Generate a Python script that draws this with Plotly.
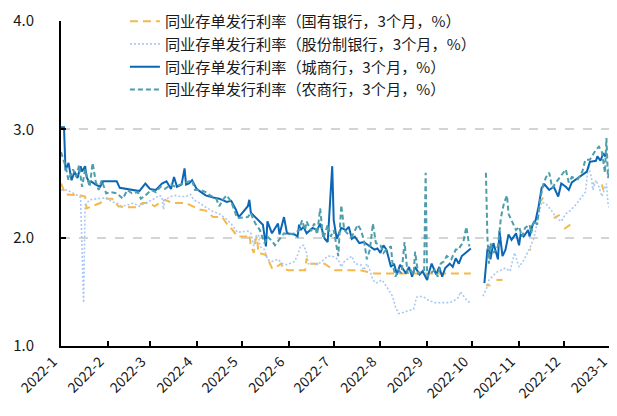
import plotly.graph_objects as go

# ---------------- data ----------------
months = ["2022-01-01", "2022-02-01", "2022-03-01", "2022-04-01", "2022-05-01", "2022-06-01",
          "2022-07-01", "2022-08-01", "2022-09-01", "2022-10-01", "2022-11-01", "2022-12-01",
          "2023-01-01"]
month_labels = ["2022-1", "2022-2", "2022-3", "2022-4", "2022-5", "2022-6", "2022-7",
                "2022-8", "2022-9", "2022-10", "2022-11", "2022-12", "2023-1"]
y_ticks = [1.0, 2.0, 3.0, 4.0]

names = ["同业存单发行利率（国有银行，3个月，%）",
         "同业存单发行利率（股份制银行，3个月，%）",
         "同业存单发行利率（城商行，3个月，%）",
         "同业存单发行利率（农商行，3个月，%）"]

state_dates = ["2022-01-01", "2022-01-04", "2022-01-14", "2022-01-17", "2022-01-18", "2022-01-22",
               "2022-01-27", "2022-01-31", "2022-02-04", "2022-02-08", "2022-02-13", "2022-02-20",
               "2022-02-24", "2022-03-01", "2022-03-04", "2022-03-11", "2022-03-16", "2022-03-25",
               "2022-03-29", "2022-04-03", "2022-04-07", "2022-04-12", "2022-04-18", "2022-04-21",
               "2022-04-25", "2022-04-28", "2022-05-05", "2022-05-06", "2022-05-07", "2022-05-09",
               "2022-05-10", "2022-05-11", "2022-05-12", "2022-05-17", "2022-05-19", "2022-05-21",
               "2022-05-23", "2022-05-27", "2022-05-29", "2022-06-01", "2022-06-12", "2022-06-13",
               "2022-06-14", "2022-06-25", "2022-06-29", "2022-07-02", "2022-07-18", "2022-07-21",
               "2022-07-28", "2022-09-30", "2022-10-05", "2022-10-10", "2022-10-13", "2022-10-15",
               "2022-10-17", "2022-10-21", "2022-10-25", "2022-11-08", "2022-11-09", "2022-11-11",
               "2022-11-15", "2022-11-17", "2022-11-20", "2022-11-24", "2022-11-28", "2022-11-30",
               "2022-12-01", "2022-12-05", "2022-12-10", "2022-12-20", "2022-12-21", "2022-12-23",
               "2022-12-26", "2022-12-27"]
state_vals = [2.50, 2.40, 2.39, 2.38, 2.27, 2.29,
              2.32, 2.36, 2.36, 2.29, 2.28, 2.28,
              2.32, 2.32, 2.29, 2.35, 2.32, 2.32,
              2.29, 2.26, 2.25, 2.19, 2.19, 2.13,
              2.07, 2.01, 2.01, 2.03, 1.92, 1.86,
              1.97, 2.01, 1.86, 1.84, 1.78, 1.72,
              1.72, 1.76, 1.71, 1.70, 1.70, 1.81,
              1.76, 1.76, 1.72, 1.70, 1.70, 1.69,
              1.67, 1.67, None, 1.56, 1.56, None,
              1.61, 1.61, None, 1.89, 1.89, None,
              2.33, 2.37, None, 2.18, 2.21, None,
              2.08, 2.12, None, 2.50, 2.50, None,
              2.49, 2.44]

joint_dates = ["2022-01-01", "2022-01-05", "2022-01-12", "2022-01-14", "2022-01-16", "2022-01-17",
               "2022-01-20", "2022-01-28", "2022-01-31", "2022-02-04", "2022-02-07", "2022-02-10",
               "2022-02-14", "2022-02-18", "2022-02-22", "2022-02-26", "2022-03-04", "2022-03-07",
               "2022-03-09", "2022-03-10", "2022-03-11", "2022-03-15", "2022-03-18", "2022-03-21",
               "2022-03-25", "2022-03-28", "2022-03-30", "2022-04-03", "2022-04-06", "2022-04-12",
               "2022-04-16", "2022-04-21", "2022-04-25", "2022-04-28", "2022-05-05", "2022-05-07",
               "2022-05-09", "2022-05-10", "2022-05-12", "2022-05-13", "2022-05-16", "2022-05-18",
               "2022-05-21", "2022-05-25", "2022-05-28", "2022-05-31", "2022-06-05", "2022-06-07",
               "2022-06-09", "2022-06-11", "2022-06-13", "2022-06-14", "2022-06-17", "2022-06-20",
               "2022-06-23", "2022-06-27", "2022-06-30", "2022-07-04", "2022-07-06", "2022-07-08",
               "2022-07-10", "2022-07-13", "2022-07-15", "2022-07-19", "2022-07-21", "2022-07-23",
               "2022-07-25", "2022-07-27", "2022-07-29", "2022-08-02", "2022-08-05", "2022-08-09",
               "2022-08-11", "2022-08-13", "2022-08-16", "2022-08-20", "2022-08-23", "2022-08-25",
               "2022-08-27", "2022-08-30", "2022-09-02", "2022-09-06", "2022-09-09", "2022-09-12",
               "2022-09-16", "2022-09-19", "2022-09-22", "2022-09-23", "2022-09-26", "2022-09-28",
               "2022-09-30", "2022-10-05", "2022-10-08", "2022-10-11", "2022-10-12", "2022-10-14",
               "2022-10-17", "2022-10-20", "2022-10-23", "2022-10-26", "2022-10-29", "2022-11-01",
               "2022-11-04", "2022-11-08", "2022-11-11", "2022-11-13", "2022-11-16", "2022-11-19",
               "2022-11-22", "2022-11-26", "2022-11-29", "2022-12-02", "2022-12-05", "2022-12-09",
               "2022-12-12", "2022-12-15", "2022-12-17", "2022-12-19", "2022-12-20", "2022-12-22",
               "2022-12-24", "2022-12-26", "2022-12-29", "2022-12-30", "2023-01-01", "2023-01-03",
               "2023-01-05"]
joint_vals = [2.44, 2.44, 2.39, 2.37, 1.40, 2.30,
              2.35, 2.36, 2.37, 2.33, 2.32, 2.29,
              2.30, 2.32, 2.29, 2.32, 2.36, 2.39,
              2.38, 2.26, 2.35, 2.38, 2.39, 2.38,
              2.38, 2.40, 2.35, 2.32, 2.29, 2.24,
              2.22, 2.17, 2.11, 2.05, 2.06, 2.04,
              1.92, 2.01, 2.03, 1.92, 1.89, 1.80,
              1.78, 1.80, 1.76, 1.75, 1.78, 1.84,
              1.92, 1.93, 1.86, 1.76, 1.76, 1.75,
              1.78, 1.83, 1.83, 1.80, 1.73, 1.78,
              1.80, 1.83, 1.76, 1.75, 1.70, 1.76,
              1.70, 1.61, 1.58, 1.61, 1.55, 1.46,
              1.36, 1.30, 1.31, 1.33, 1.34, 1.45,
              1.46, 1.45, 1.42, 1.40, 1.40, 1.40,
              1.40, 1.42, 1.45, 1.50, 1.44, 1.41,
              1.40, None, 1.46, 1.55, 1.61, 1.64,
              1.68, 1.70, 1.72, 1.69, 1.86, 1.73,
              1.79, 1.90, 2.00, 2.14, 2.33, 2.31,
              2.26, 2.18, 2.15, 2.22, 2.25, 2.31,
              2.36, 2.42, 2.66, 2.56, 2.44, 2.53,
              2.47, 2.38, 2.50, 2.32, 2.23, 2.20,
              2.16]

city_dates = ["2022-01-01", "2022-01-03", "2022-01-04", "2022-01-06", "2022-01-08", "2022-01-10",
              "2022-01-12", "2022-01-14", "2022-01-15", "2022-01-17", "2022-01-18", "2022-01-20",
              "2022-01-21", "2022-01-24", "2022-01-27", "2022-01-29", "2022-02-01", "2022-02-07",
              "2022-02-09", "2022-02-13", "2022-02-18", "2022-02-22", "2022-02-26", "2022-03-01",
              "2022-03-05", "2022-03-09", "2022-03-12", "2022-03-15", "2022-03-17", "2022-03-19",
              "2022-03-22", "2022-03-24", "2022-03-25", "2022-03-27", "2022-03-29", "2022-04-01",
              "2022-04-03", "2022-04-07", "2022-04-12", "2022-04-16", "2022-04-21", "2022-04-24",
              "2022-04-27", "2022-04-29", "2022-05-05", "2022-05-06", "2022-05-07", "2022-05-10",
              "2022-05-12", "2022-05-15", "2022-05-17", "2022-05-18", "2022-05-21", "2022-05-25",
              "2022-05-26", "2022-05-29", "2022-05-31", "2022-06-05", "2022-06-07", "2022-06-08",
              "2022-06-09", "2022-06-11", "2022-06-13", "2022-06-17", "2022-06-20", "2022-06-22",
              "2022-06-25", "2022-06-27", "2022-06-30", "2022-07-01", "2022-07-03", "2022-07-06",
              "2022-07-09", "2022-07-11", "2022-07-13", "2022-07-15", "2022-07-18", "2022-07-21",
              "2022-07-24", "2022-07-28", "2022-07-30", "2022-08-01", "2022-08-03", "2022-08-05",
              "2022-08-08", "2022-08-10", "2022-08-12", "2022-08-14", "2022-08-18", "2022-08-20",
              "2022-08-22", "2022-08-24", "2022-08-27", "2022-08-29", "2022-09-01", "2022-09-02",
              "2022-09-04", "2022-09-07", "2022-09-09", "2022-09-11", "2022-09-13", "2022-09-16",
              "2022-09-18", "2022-09-20", "2022-09-22", "2022-09-24", "2022-09-30", "2022-10-05",
              "2022-10-09", "2022-10-11", "2022-10-12", "2022-10-13", "2022-10-15", "2022-10-18",
              "2022-10-19", "2022-10-21", "2022-10-23", "2022-10-25", "2022-10-27", "2022-10-30",
              "2022-11-01", "2022-11-02", "2022-11-04", "2022-11-07", "2022-11-08", "2022-11-10",
              "2022-11-12", "2022-11-14", "2022-11-16", "2022-11-18", "2022-11-21", "2022-11-24",
              "2022-11-27", "2022-11-29", "2022-12-02", "2022-12-04", "2022-12-06", "2022-12-11",
              "2022-12-13", "2022-12-16", "2022-12-18", "2022-12-22", "2022-12-23", "2022-12-25",
              "2022-12-27", "2022-12-28", "2022-12-29"]
city_vals = [3.02, 3.02, 2.62, 2.69, 2.53, 2.61,
             2.55, 2.66, 2.61, 2.66, 2.56, 2.50,
             2.52, 2.49, 2.47, 2.52, 2.52, 2.52,
             2.46, 2.45, 2.44, 2.43, 2.50, 2.45,
             2.44, 2.50, 2.52, 2.45, 2.56, 2.47,
             2.49, 2.64, 2.49, 2.50, 2.53, 2.45,
             2.43, 2.39, 2.37, 2.36, 2.33, 2.34,
             2.26, 2.19, 2.29, 2.35, 2.23, 2.19,
             2.16, 2.12, 1.92, 2.15, 2.04, 2.13,
             2.03, 2.19, 2.04, 2.03, 2.01, 2.12,
             2.07, 2.10, 2.04, 2.09, 2.07, 2.13,
             1.99, 1.96, 2.66, 2.16, 1.99, 2.09,
             2.07, 2.10, 1.99, 2.01, 1.95, 1.96,
             1.93, 1.89, 1.90, 1.86, 1.93, 1.89,
             1.73, 1.76, 1.66, 1.75, 1.67, 1.73,
             1.64, 1.73, 1.66, 1.69, 1.61, 1.67,
             1.76, 1.66, 1.73, 1.64, 1.72, 1.76,
             1.73, 1.81, 1.76, 1.83, 1.90, None,
             1.58, 1.89, 1.92, 1.80, 1.95, 1.80,
             2.06, 1.83, 1.89, 2.03, 1.98, 2.04,
             1.93, 2.03, 2.01, 2.07, 2.01, 2.12,
             2.16, 2.29, 2.46, 2.49, 2.44, 2.47,
             2.38, 2.50, 2.47, 2.44, 2.51, 2.56,
             2.58, 2.61, 2.70, 2.71, 2.75, 2.71,
             2.78, 2.75, 2.78]

rural_dates = ["2022-01-01", "2022-01-04", "2022-01-06", "2022-01-09", "2022-01-11", "2022-01-13",
               "2022-01-15", "2022-01-17", "2022-01-20", "2022-01-22", "2022-01-24", "2022-01-26",
               "2022-01-28", "2022-01-31", "2022-02-03", "2022-02-07", "2022-02-11", "2022-02-14",
               "2022-02-17", "2022-02-21", "2022-02-23", "2022-02-26", "2022-03-02", "2022-03-05",
               "2022-03-08", "2022-03-11", "2022-03-15", "2022-03-18", "2022-03-21", "2022-03-27",
               "2022-03-29", "2022-03-31", "2022-04-04", "2022-04-07", "2022-04-10", "2022-04-14",
               "2022-04-16", "2022-04-19", "2022-04-21", "2022-04-24", "2022-04-26", "2022-04-28",
               "2022-05-05", "2022-05-07", "2022-05-08", "2022-05-10", "2022-05-13", "2022-05-16",
               "2022-05-18", "2022-05-21", "2022-05-23", "2022-05-26", "2022-05-29", "2022-06-01",
               "2022-06-05", "2022-06-08", "2022-06-10", "2022-06-12", "2022-06-13", "2022-06-16",
               "2022-06-18", "2022-06-20", "2022-06-22", "2022-06-24", "2022-06-27", "2022-06-29",
               "2022-07-01", "2022-07-04", "2022-07-06", "2022-07-08", "2022-07-10", "2022-07-13",
               "2022-07-17", "2022-07-19", "2022-07-21", "2022-07-23", "2022-07-25", "2022-07-27",
               "2022-07-29", "2022-08-01", "2022-08-03", "2022-08-05", "2022-08-08", "2022-08-09",
               "2022-08-11", "2022-08-13", "2022-08-15", "2022-08-17", "2022-08-19", "2022-08-21",
               "2022-08-23", "2022-08-24", "2022-08-26", "2022-08-30", "2022-08-31", "2022-09-01",
               "2022-09-03", "2022-09-06", "2022-09-08", "2022-09-10", "2022-09-12", "2022-09-14",
               "2022-09-17", "2022-09-20", "2022-09-22", "2022-09-23", "2022-09-25", "2022-09-27",
               "2022-09-29", "2022-10-05", "2022-10-10", "2022-10-11", "2022-10-12", "2022-10-13",
               "2022-10-15", "2022-10-18", "2022-10-20", "2022-10-22", "2022-10-24", "2022-10-25",
               "2022-10-27", "2022-10-30", "2022-11-01", "2022-11-03", "2022-11-05", "2022-11-08",
               "2022-11-09", "2022-11-11", "2022-11-13", "2022-11-14", "2022-11-15", "2022-11-17",
               "2022-11-19", "2022-11-21", "2022-11-23", "2022-11-25", "2022-11-29", "2022-12-02",
               "2022-12-04", "2022-12-06", "2022-12-10", "2022-12-13", "2022-12-15", "2022-12-18",
               "2022-12-22", "2022-12-24", "2022-12-26", "2022-12-28", "2022-12-29", "2022-12-30",
               "2023-01-03", "2023-01-05"]
rural_vals = [2.79, 2.66, 2.53, 2.63, 2.56, 2.67,
              2.47, 2.63, 2.47, 2.69, 2.52, 2.44,
              2.53, 2.41, 2.42, 2.41, 2.36, 2.44,
              2.41, 2.42, 2.36, 2.39, 2.44, 2.42,
              2.47, 2.45, 2.49, 2.47, 2.49, 2.52,
              2.53, 2.44, 2.44, 2.42, 2.39, 2.36,
              2.29, 2.36, 2.39, 2.33, 2.26, 2.18,
              2.19, 2.23, 2.19, 2.13, 2.07, 1.95,
              2.01, 1.97, 1.93, 1.98, 2.04, 2.03,
              2.04, 2.07, 2.16, 2.07, 2.15, 2.06,
              2.13, 2.03, 2.27, 1.99, 2.12, 2.01,
              2.07, 1.83, 2.30, 2.07, 2.04, 2.01,
              2.12, 2.07, 1.98, 1.80, 1.89, 2.13,
              1.95, 1.93, 1.86, 1.89, 1.92, 1.76,
              1.64, 1.70, 1.67, 1.96, 1.67, 1.70,
              1.66, 1.87, 1.67, 1.70, 2.60, 1.64,
              1.67, 1.70, 1.64, 1.76, 1.78, 1.83,
              1.80, 1.89, 1.89, 1.92, 1.96, 2.10,
              1.92, None, 2.60, 2.00, 1.76, 1.95,
              1.86, 1.92, 2.19, 2.32, 2.39, 2.22,
              2.16, 2.07, 2.10, 2.01, 2.09, 2.12,
              2.04, 2.16, 2.12, 2.26, 2.35, 2.49,
              2.56, 2.60, 2.46, 2.50, 2.58, 2.63,
              2.51, 2.56, 2.54, 2.61, 2.72, 2.72,
              2.81, 2.84, 2.79, 2.60, 2.92, 2.55,
              2.86, 2.84]

# ---------------- figure ----------------
# The page body adds an 8px offset, so the figure is sized 8px smaller each way.
FONT = "Noto Sans CJK SC, Noto Sans, sans-serif"
fig = go.Figure()

fig.add_trace(go.Scatter(x=state_dates, y=state_vals, name=names[0], mode="lines",
                         connectgaps=False,
                         line=dict(color="#F5B84A", width=2, dash="8px,5px")))
fig.add_trace(go.Scatter(x=joint_dates, y=joint_vals, name=names[1], mode="lines",
                         connectgaps=False,
                         line=dict(color="#A9C8F5", width=1.6, dash="2px,2px")))
fig.add_trace(go.Scatter(x=city_dates, y=city_vals, name=names[2], mode="lines",
                         connectgaps=False,
                         line=dict(color="#0B66B5", width=2)))
fig.add_trace(go.Scatter(x=rural_dates, y=rural_vals, name=names[3], mode="lines",
                         connectgaps=False,
                         line=dict(color="#4D9DAA", width=2, dash="5px,3px")))

fig.update_layout(
    width=609, height=408,
    margin=dict(l=53, r=0, t=13, b=70, autoexpand=False),
    paper_bgcolor="white", plot_bgcolor="white",
    font=dict(family=FONT, size=13, color="#1a1a1a"),
    showlegend=True,
    legend=dict(xref="container", yref="paper", x=0.192, y=1.05,
                xanchor="left", yanchor="top",
                bgcolor="rgba(0,0,0,0)", font=dict(size=15.2, family=FONT, color="#1a1a1a"),
                tracegroupgap=0),
)

fig.update_xaxes(
    type="date",
    range=["2022-01-01", "2023-01-05"],
    tickvals=months, ticktext=month_labels,
    tickangle=-45,
    ticklabeloverflow="allow",
    ticklabelshift=-8,
    automargin=False,
    showline=True, linecolor="black", linewidth=2,
    ticks="inside", ticklen=5, tickcolor="black", tickwidth=1.5,
    showgrid=False, zeroline=False,
    tickfont=dict(size=14, family=FONT, color="#1a1a1a"),
)
fig.update_yaxes(
    range=[1.0, 4.0],
    tickvals=y_ticks, tickformat=".1f",
    automargin=False,
    showline=True, linecolor="black", linewidth=2,
    ticks="inside", ticklen=5, tickcolor="black", tickwidth=2,
    showgrid=True, gridcolor="#D4D4D4", gridwidth=1.5, griddash="dash",
    zeroline=False,
    ticklabelstandoff=22,
    tickfont=dict(size=15, family=FONT, color="#1a1a1a"),
)

fig.write_html("out.html")
